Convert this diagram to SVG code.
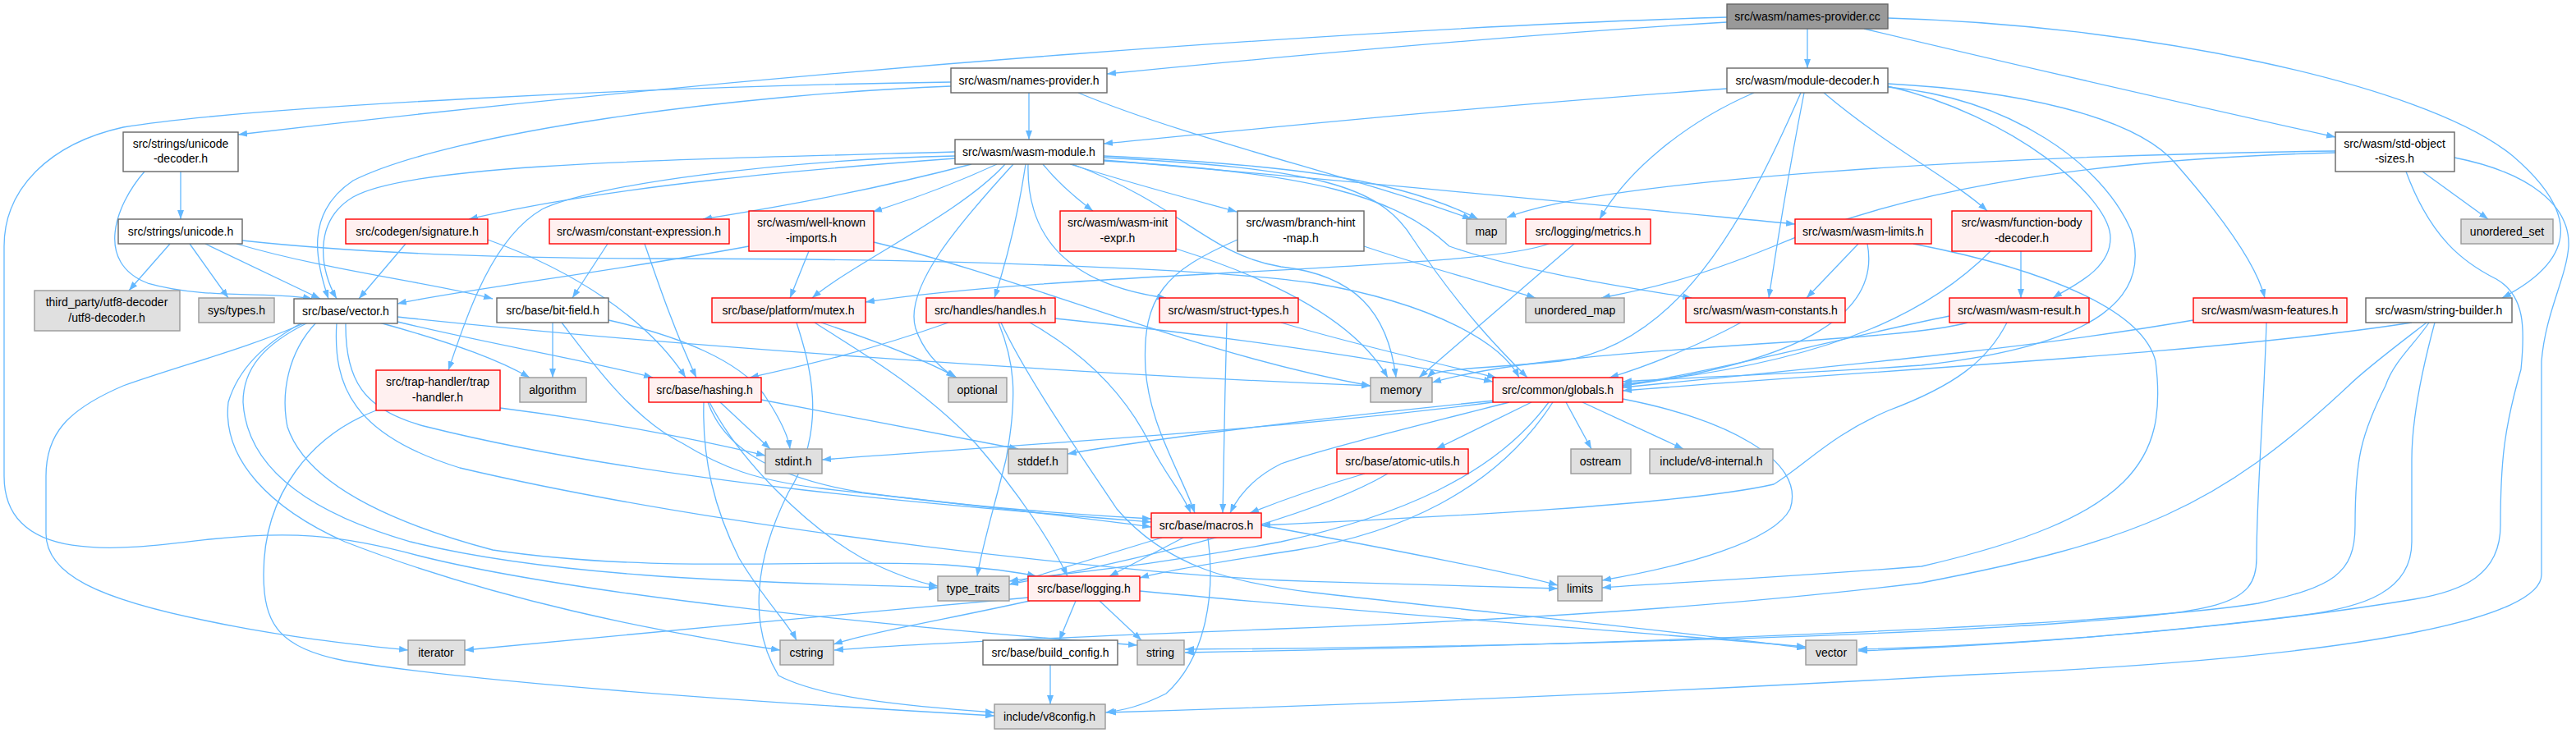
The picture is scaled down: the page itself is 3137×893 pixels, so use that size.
<svg xmlns="http://www.w3.org/2000/svg" width="3137" height="893" viewBox="0 0 3137 893">
<style>
.e{fill:none;stroke:#63B8FF;stroke-width:1.3;marker-end:url(#ah)}
.w{fill:#FFFFFF;stroke:#666666;stroke-width:1.4}
.r{fill:#FFF0F0;stroke:#FF0000;stroke-width:1.4}
.g{fill:#E0E0E0;stroke:#999999;stroke-width:1.4}
.k{fill:#999999;stroke:#666666;stroke-width:1.4}
text{font-family:"Liberation Sans",Arial,sans-serif;font-size:14px;fill:#000000;text-anchor:middle}
</style>
<defs>
<marker id="ah" markerUnits="userSpaceOnUse" viewBox="0 0 11 8" refX="11" refY="4" markerWidth="11" markerHeight="8" orient="auto">
<path d="M0,0 L11,4 L0,8 z" fill="#63B8FF"/>
</marker>
</defs>
<rect width="3137" height="893" fill="#FFFFFF"/>
<g id="edges">
<path class="e" d="M2103,27 C1850,42 1550,70 1348,90"/>
<path class="e" d="M2201,35 L2201,83"/>
<path class="e" d="M2103,21 C1700,33 1000,80 290,164"/>
<path class="e" d="M2270,35 C2500,90 2700,135 2844,167"/>
<path class="e" d="M2299,22 C2600,30 2950,100 3060,190 C3130,250 3150,310 3047,363"/>
<path class="e" d="M1253,113 L1253,170"/>
<path class="e" d="M1313,113 C1450,170 1650,215 1792,267"/>
<path class="e" d="M1158,105 C900,115 550,160 430,220 C370,260 385,320 400,364"/>
<path class="e" d="M1158,100 C800,105 300,130 150,155 C60,175 5,230 5,300 L5,580 C5,690 150,670 255,657 C350,647 410,650 510,677 C700,725 1100,765 1385,786"/>
<path class="e" d="M1163,185 C800,195 500,200 430,240 C380,270 390,330 410,364"/>
<path class="e" d="M1163,193 C1000,205 750,225 571,267"/>
<path class="e" d="M1163,190 C950,195 720,225 660,255 C600,290 570,380 546,451"/>
<path class="e" d="M1183,200 C1050,235 930,255 856,267"/>
<path class="e" d="M1214,200 C1160,225 1110,243 1063,258"/>
<path class="e" d="M1224,200 C1170,260 1040,320 989,363"/>
<path class="e" d="M1234,200 C1170,270 1100,350 1115,400 C1125,430 1145,448 1163,460"/>
<path class="e" d="M1249,200 C1240,260 1225,320 1211,363"/>
<path class="e" d="M1270,200 C1290,225 1315,245 1331,257"/>
<path class="e" d="M1252,200 C1250,280 1290,345 1420,363"/>
<path class="e" d="M1303,200 C1400,230 1460,245 1506,258"/>
<path class="e" d="M1306,200 C1440,250 1470,310 1560,325 C1650,335 1690,380 1700,460"/>
<path class="e" d="M1344,190 C1550,200 1700,215 1800,267"/>
<path class="e" d="M1344,195 C1700,225 2000,255 2186,273"/>
<path class="e" d="M1344,196 C1600,210 1700,240 1765,300 C1850,330 1980,350 2060,363"/>
<path class="e" d="M1344,192 C1600,205 1680,225 1720,290 C1780,380 1830,430 1860,460"/>
<path class="e" d="M220,209 L220,267"/>
<path class="e" d="M176,209 C140,250 115,320 180,345 C250,365 330,355 380,364"/>
<path class="e" d="M207,297 L157,354"/>
<path class="e" d="M231,297 L278,363"/>
<path class="e" d="M250,297 L390,364"/>
<path class="e" d="M288,297 C400,330 530,345 600,364"/>
<path class="e" d="M295,293 C450,310 650,315 800,315 C1200,315 1500,330 1600,345 C1750,370 1830,420 1850,460"/>
<path class="e" d="M494,297 L437,364"/>
<path class="e" d="M594,292 C700,330 790,390 835,460"/>
<path class="e" d="M740,297 L697,363"/>
<path class="e" d="M785,297 C800,340 820,400 848,460"/>
<path class="e" d="M912,300 C750,330 550,355 484,370"/>
<path class="e" d="M985,306 L962,363"/>
<path class="e" d="M1064,295 C1250,340 1450,430 1669,470"/>
<path class="e" d="M1432,303 C1550,340 1650,390 1690,460"/>
<path class="e" d="M1661,300 C1750,330 1830,350 1870,363"/>
<path class="e" d="M1507,292 C1420,330 1390,360 1395,450 C1400,520 1440,580 1455,625"/>
<path class="e" d="M1917,297 L1728,460"/>
<path class="e" d="M1886,297 C1800,330 1300,330 1054,368"/>
<path class="e" d="M2263,297 L2200,363"/>
<path class="e" d="M2274,297 C2290,380 2200,440 1976,470"/>
<path class="e" d="M2330,297 C2500,330 2610,380 2625,440 C2640,560 2600,630 2340,690 C2150,705 2000,712 1951,716"/>
<path class="e" d="M2461,306 L2461,363"/>
<path class="e" d="M2424,306 C2360,370 2250,440 1976,468"/>
<path class="e" d="M2103,108 C1800,130 1550,155 1344,175"/>
<path class="e" d="M2136,113 C2050,150 1980,210 1948,267"/>
<path class="e" d="M2193,113 C2120,280 2040,420 1900,440 C1800,450 1750,448 1738,460"/>
<path class="e" d="M2197,113 C2180,200 2165,290 2154,363"/>
<path class="e" d="M2299,105 C2450,140 2570,240 2570,290 C2570,330 2520,350 2500,363"/>
<path class="e" d="M2221,113 C2300,180 2380,220 2420,257"/>
<path class="e" d="M2299,102 C2450,110 2600,140 2650,200 C2720,280 2750,330 2758,363"/>
<path class="e" d="M2299,106 C2450,120 2560,200 2595,280 C2620,360 2560,420 2340,445 C2200,455 2050,460 1976,465"/>
<path class="e" d="M2844,184 C2400,190 1950,220 1835,265"/>
<path class="e" d="M2844,186 C2500,195 2300,240 2160,300 C2050,345 1990,355 1950,363"/>
<path class="e" d="M2950,209 L3030,267"/>
<path class="e" d="M2930,209 C2960,290 3000,320 3040,340 C3075,360 3075,400 3070,450 C3050,520 3045,560 3045,640 C3045,700 3000,720 2940,730 C2700,770 2400,788 2263,793"/>
<path class="e" d="M2989,192 C3080,210 3130,250 3128,300 C3125,340 3100,380 3095,440 L3095,700 C3095,750 2900,800 2400,822 C2000,845 1600,860 1348,868"/>
<path class="e" d="M2937,393 C2700,430 2300,450 1976,476"/>
<path class="e" d="M2955,393 C2920,420 2880,450 2860,470 C2700,620 2600,660 2340,710 C2100,740 1800,757 1560,766 C1300,776 1100,785 1016,792"/>
<path class="e" d="M2958,393 C2940,420 2915,440 2905,470 C2875,530 2868,560 2868,640 C2868,700 2840,715 2750,735 C2600,760 2000,785 1443,795"/>
<path class="e" d="M2965,393 C2955,430 2937,500 2937,560 L2937,660 C2937,720 2880,740 2800,750 C2600,775 2400,788 2263,791"/>
<path class="e" d="M2671,390 C2500,420 2300,440 1976,472"/>
<path class="e" d="M2760,393 C2757,500 2748,600 2748,680 C2748,740 2700,745 2500,760 C2200,780 1700,790 1443,791"/>
<path class="e" d="M2374,385 C2250,410 2100,450 1976,470"/>
<path class="e" d="M2396,393 C2300,420 1900,420 1744,466"/>
<path class="e" d="M2444,393 C2420,440 2380,470 2300,500 C2230,530 2200,565 2160,590 C2050,615 1750,630 1536,640"/>
<path class="e" d="M2120,393 C2070,420 2010,445 1960,460"/>
<path class="e" d="M1155,393 C1050,430 980,445 913,460"/>
<path class="e" d="M1216,393 C1235,440 1240,480 1225,560 C1210,620 1195,670 1190,702"/>
<path class="e" d="M1254,393 C1320,430 1370,480 1400,540 C1420,580 1440,600 1450,625"/>
<path class="e" d="M1219,393 C1250,460 1320,560 1360,620 C1420,690 1500,710 1600,722 C1800,745 2100,775 2199,790"/>
<path class="e" d="M1285,388 C1500,410 1700,440 1818,465"/>
<path class="e" d="M1494,393 C1492,470 1490,550 1489,625"/>
<path class="e" d="M1560,393 C1650,420 1760,445 1822,460"/>
<path class="e" d="M1000,393 C1080,420 1130,440 1165,460"/>
<path class="e" d="M992,393 C1050,430 1120,470 1188,540 C1240,600 1280,660 1300,702"/>
<path class="e" d="M970,393 C985,440 1010,520 960,600 C920,680 910,760 948,823 C1000,850 1100,860 1211,868"/>
<path class="e" d="M609,497 C750,515 870,540 932,555"/>
<path class="e" d="M458,500 C380,530 321,600 321,700 C321,760 340,790 420,805 C600,835 1000,860 1211,872"/>
<path class="e" d="M462,393 C560,420 610,440 645,460"/>
<path class="e" d="M484,392 C600,420 720,440 795,460"/>
<path class="e" d="M484,386 C800,420 1300,455 1669,470"/>
<path class="e" d="M421,393 C420,460 440,500 520,520 C800,590 1200,620 1402,636"/>
<path class="e" d="M410,393 C405,470 430,530 560,570 C900,650 1400,700 1560,707 C1700,712 1850,716 1897,717"/>
<path class="e" d="M375,393 C320,420 296,450 296,490 C300,560 360,620 500,660 C700,710 1000,710 1142,716"/>
<path class="e" d="M385,393 C350,430 342,480 350,520 C370,580 450,630 600,670 C800,700 1000,680 1150,688 C1200,692 1240,697 1262,702"/>
<path class="e" d="M372,393 C300,425 220,445 150,470 C80,500 56,530 56,580 L56,650 C56,700 120,730 255,757 C350,777 440,786 497,792"/>
<path class="e" d="M368,393 C320,420 290,450 278,490 C270,560 330,620 420,660 C600,730 800,770 950,792"/>
<path class="e" d="M673,393 L673,460"/>
<path class="e" d="M741,390 C830,410 900,440 930,480 C950,510 960,530 962,547"/>
<path class="e" d="M684,393 C720,440 770,510 831,540 C880,570 920,585 1000,595 C1150,612 1300,628 1402,642"/>
<path class="e" d="M877,490 L938,547"/>
<path class="e" d="M927,487 C1050,510 1150,530 1240,547"/>
<path class="e" d="M862,490 C880,540 930,580 1050,600 C1200,620 1330,628 1402,632"/>
<path class="e" d="M864,490 C900,560 980,640 1050,680 C1090,700 1120,710 1142,714"/>
<path class="e" d="M857,490 C855,560 870,620 900,680 C930,730 960,760 970,780"/>
<path class="e" d="M1662,577 C1600,595 1560,610 1522,625"/>
<path class="e" d="M1690,577 C1600,630 1400,680 1229,712"/>
<path class="e" d="M1865,490 L1749,547"/>
<path class="e" d="M1907,490 L1938,547"/>
<path class="e" d="M1927,490 L2050,547"/>
<path class="e" d="M1976,486 C2100,510 2200,560 2180,620 C2160,660 2050,690 1951,707"/>
<path class="e" d="M1818,490 C1600,520 1200,545 1001,560"/>
<path class="e" d="M1820,488 C1600,510 1400,535 1300,553"/>
<path class="e" d="M1838,490 C1720,520 1600,550 1560,565 C1530,580 1510,600 1498,625"/>
<path class="e" d="M1886,490 C1820,580 1700,630 1560,660 C1400,690 1280,700 1229,708"/>
<path class="e" d="M1891,490 C1820,600 1700,650 1580,670 C1480,685 1420,695 1388,704"/>
<path class="e" d="M1415,655 L1229,712"/>
<path class="e" d="M1441,655 L1351,702"/>
<path class="e" d="M1536,640 C1700,670 1850,700 1897,713"/>
<path class="e" d="M1471,655 C1480,720 1470,800 1420,845 C1390,860 1370,865 1346,868"/>
<path class="e" d="M1310,732 L1290,780"/>
<path class="e" d="M1339,732 L1390,780"/>
<path class="e" d="M1254,732 C1150,755 1060,770 1015,785"/>
<path class="e" d="M1252,728 C1000,750 700,780 566,792"/>
<path class="e" d="M1388,720 C1700,750 2000,770 2199,788"/>
<path class="e" d="M1279,810 L1279,858"/>
</g>
<g id="node-npcc"><rect class="k" x="2103" y="5" width="196" height="30"/><text x="2201" y="25">src/wasm/names-provider.cc</text></g>
<g id="node-nph"><rect class="w" x="1158" y="83" width="190" height="30"/><text x="1253" y="103">src/wasm/names-provider.h</text></g>
<g id="node-md"><rect class="w" x="2103" y="83" width="196" height="30"/><text x="2201" y="103">src/wasm/module-decoder.h</text></g>
<g id="node-ud"><rect class="w" x="150" y="161" width="140" height="48"/><text x="220" y="180">src/strings/unicode</text><text x="220" y="198">-decoder.h</text></g>
<g id="node-sos"><rect class="w" x="2844" y="161" width="145" height="48"/><text x="2916" y="180">src/wasm/std-object</text><text x="2916" y="198">-sizes.h</text></g>
<g id="node-wm"><rect class="w" x="1163" y="170" width="181" height="30"/><text x="1253" y="190">src/wasm/wasm-module.h</text></g>
<g id="node-uni"><rect class="w" x="144" y="267" width="151" height="30"/><text x="220" y="287">src/strings/unicode.h</text></g>
<g id="node-sig"><rect class="r" x="421" y="267" width="173" height="30"/><text x="508" y="287">src/codegen/signature.h</text></g>
<g id="node-ce"><rect class="r" x="669" y="267" width="219" height="30"/><text x="778" y="287">src/wasm/constant-expression.h</text></g>
<g id="node-wki"><rect class="r" x="912" y="257" width="152" height="49"/><text x="988" y="276">src/wasm/well-known</text><text x="988" y="295">-imports.h</text></g>
<g id="node-wie"><rect class="r" x="1291" y="257" width="141" height="49"/><text x="1361" y="276">src/wasm/wasm-init</text><text x="1361" y="295">-expr.h</text></g>
<g id="node-bhm"><rect class="w" x="1507" y="257" width="154" height="49"/><text x="1584" y="276">src/wasm/branch-hint</text><text x="1584" y="295">-map.h</text></g>
<g id="node-map"><rect class="g" x="1786" y="267" width="48" height="30"/><text x="1810" y="287">map</text></g>
<g id="node-met"><rect class="r" x="1858" y="267" width="152" height="30"/><text x="1934" y="287">src/logging/metrics.h</text></g>
<g id="node-lim"><rect class="r" x="2186" y="267" width="166" height="30"/><text x="2269" y="287">src/wasm/wasm-limits.h</text></g>
<g id="node-fbd"><rect class="r" x="2377" y="257" width="170" height="49"/><text x="2462" y="276">src/wasm/function-body</text><text x="2462" y="295">-decoder.h</text></g>
<g id="node-uset"><rect class="g" x="2997" y="267" width="112" height="30"/><text x="3053" y="287">unordered_set</text></g>
<g id="node-utf8"><rect class="g" x="42" y="354" width="177" height="49"/><text x="130" y="373">third_party/utf8-decoder</text><text x="130" y="392">/utf8-decoder.h</text></g>
<g id="node-sys"><rect class="g" x="242" y="363" width="92" height="30"/><text x="288" y="383">sys/types.h</text></g>
<g id="node-vec"><rect class="w" x="358" y="364" width="126" height="30"/><text x="421" y="384">src/base/vector.h</text></g>
<g id="node-bf"><rect class="w" x="605" y="363" width="136" height="30"/><text x="673" y="383">src/base/bit-field.h</text></g>
<g id="node-mut"><rect class="r" x="867" y="363" width="187" height="30"/><text x="960" y="383">src/base/platform/mutex.h</text></g>
<g id="node-hh"><rect class="r" x="1128" y="363" width="157" height="30"/><text x="1206" y="383">src/handles/handles.h</text></g>
<g id="node-st"><rect class="r" x="1412" y="363" width="169" height="30"/><text x="1496" y="383">src/wasm/struct-types.h</text></g>
<g id="node-umap"><rect class="g" x="1858" y="363" width="120" height="30"/><text x="1918" y="383">unordered_map</text></g>
<g id="node-wc"><rect class="r" x="2053" y="363" width="194" height="30"/><text x="2150" y="383">src/wasm/wasm-constants.h</text></g>
<g id="node-wr"><rect class="r" x="2374" y="363" width="170" height="30"/><text x="2459" y="383">src/wasm/wasm-result.h</text></g>
<g id="node-wf"><rect class="r" x="2671" y="363" width="187" height="30"/><text x="2764" y="383">src/wasm/wasm-features.h</text></g>
<g id="node-sb"><rect class="w" x="2881" y="363" width="178" height="30"/><text x="2970" y="383">src/wasm/string-builder.h</text></g>
<g id="node-th"><rect class="r" x="458" y="451" width="151" height="49"/><text x="533" y="470">src/trap-handler/trap</text><text x="533" y="489">-handler.h</text></g>
<g id="node-alg"><rect class="g" x="633" y="460" width="81" height="30"/><text x="673" y="480">algorithm</text></g>
<g id="node-hash"><rect class="r" x="790" y="460" width="137" height="30"/><text x="858" y="480">src/base/hashing.h</text></g>
<g id="node-opt"><rect class="g" x="1155" y="460" width="71" height="30"/><text x="1190" y="480">optional</text></g>
<g id="node-mem"><rect class="g" x="1669" y="460" width="75" height="30"/><text x="1706" y="480">memory</text></g>
<g id="node-glob"><rect class="r" x="1818" y="460" width="158" height="30"/><text x="1897" y="480">src/common/globals.h</text></g>
<g id="node-sint"><rect class="g" x="932" y="547" width="69" height="30"/><text x="966" y="567">stdint.h</text></g>
<g id="node-sdef"><rect class="g" x="1228" y="547" width="72" height="30"/><text x="1264" y="567">stddef.h</text></g>
<g id="node-atom"><rect class="r" x="1628" y="547" width="160" height="30"/><text x="1708" y="567">src/base/atomic-utils.h</text></g>
<g id="node-ost"><rect class="g" x="1913" y="547" width="73" height="30"/><text x="1949" y="567">ostream</text></g>
<g id="node-v8i"><rect class="g" x="2009" y="547" width="150" height="30"/><text x="2084" y="567">include/v8-internal.h</text></g>
<g id="node-mac"><rect class="r" x="1402" y="625" width="134" height="30"/><text x="1469" y="645">src/base/macros.h</text></g>
<g id="node-tt"><rect class="g" x="1142" y="702" width="87" height="30"/><text x="1185" y="722">type_traits</text></g>
<g id="node-log"><rect class="r" x="1252" y="702" width="136" height="30"/><text x="1320" y="722">src/base/logging.h</text></g>
<g id="node-lim2"><rect class="g" x="1897" y="702" width="54" height="30"/><text x="1924" y="722">limits</text></g>
<g id="node-iter"><rect class="g" x="497" y="780" width="69" height="30"/><text x="531" y="800">iterator</text></g>
<g id="node-cstr"><rect class="g" x="950" y="780" width="65" height="30"/><text x="982" y="800">cstring</text></g>
<g id="node-bc"><rect class="w" x="1197" y="780" width="164" height="30"/><text x="1279" y="800">src/base/build_config.h</text></g>
<g id="node-str"><rect class="g" x="1385" y="780" width="57" height="30"/><text x="1413" y="800">string</text></g>
<g id="node-vecs"><rect class="g" x="2199" y="780" width="62" height="30"/><text x="2230" y="800">vector</text></g>
<g id="node-v8c"><rect class="g" x="1211" y="858" width="135" height="30"/><text x="1278" y="878">include/v8config.h</text></g>
</svg>
